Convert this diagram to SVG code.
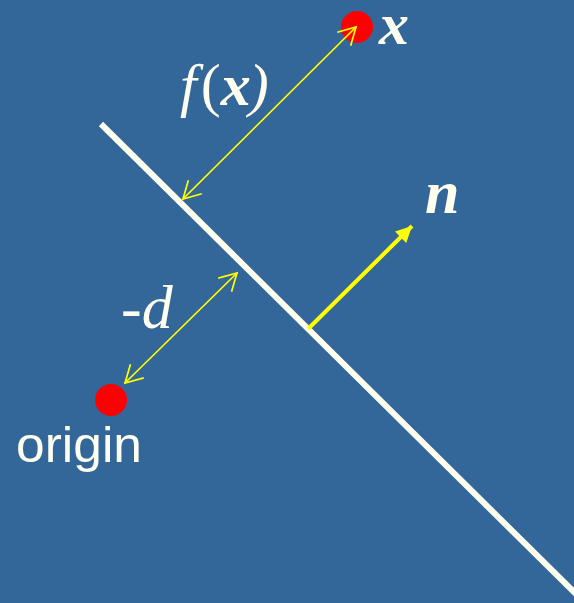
<svg xmlns="http://www.w3.org/2000/svg" width="574" height="603" viewBox="0 0 574 603">
<defs>
<style>
.bg{fill:#336699}
.plane{stroke:#FFFFF0;stroke-width:6;fill:none}
.dim{stroke:#FFFF00;stroke-width:1.7;fill:none}
.normal{stroke:#FFFF00;stroke-width:4;fill:none}
.dot{fill:#FF0000}
.math{font-family:"Liberation Serif","DejaVu Serif",serif;fill:#FFFFF0}
.sans{font-family:"Liberation Sans",Arial,sans-serif;fill:#FFFFF0}
</style>
<marker id="open" viewBox="-20 -12 22 24" markerWidth="22" markerHeight="24" refX="0" refY="0" orient="auto-start-reverse" markerUnits="userSpaceOnUse">
<path d="M-17,-9.5 L0,0 L-17,9.5" fill="none" stroke="#FFFF00" stroke-width="1.7"/>
</marker>
<marker id="solid" viewBox="-18 -10 20 20" markerWidth="20" markerHeight="20" refX="0" refY="0" orient="auto" markerUnits="userSpaceOnUse">
<path d="M-16,-8 L0,0 L-16,8 Z" fill="#FFFF00"/>
</marker>
</defs>
<rect class="bg" x="0" y="0" width="574" height="603"/>
<g id="plane"><line class="plane" x1="101" y1="124" x2="580" y2="598"/></g>
<g id="point-x">
<circle class="dot" cx="357" cy="27" r="16"/>
<text class="math" x="379" y="44" font-size="60" font-weight="bold" font-style="italic">x</text>
</g>
<g id="origin">
<circle class="dot" cx="111" cy="400" r="16"/>
<text class="sans" x="16" y="462" font-size="50" textLength="126" lengthAdjust="spacingAndGlyphs">origin</text>
</g>
<g id="connectors">
<line class="dim" x1="183" y1="199" x2="356" y2="27" marker-start="url(#open)" marker-end="url(#open)"/>
<line class="dim" x1="125" y1="383" x2="237" y2="273" marker-start="url(#open)" marker-end="url(#open)"/>
<line class="normal" x1="308" y1="329" x2="412" y2="226" marker-end="url(#solid)"/>
</g>
<g id="label-n">
<text class="math" x="425" y="213" font-size="62" font-weight="bold" font-style="italic">n</text>
</g>
<g id="label-fx">
<text class="math" x="180" y="105" font-size="60"><tspan font-style="italic">f</tspan><tspan dx="4">(</tspan><tspan font-weight="bold" font-style="italic">x</tspan><tspan dx="-2" font-style="italic">)</tspan></text>
</g>
<g id="label-d">
<text class="math" x="121" y="328" font-size="62" font-style="italic">-d</text>
</g>
</svg>
